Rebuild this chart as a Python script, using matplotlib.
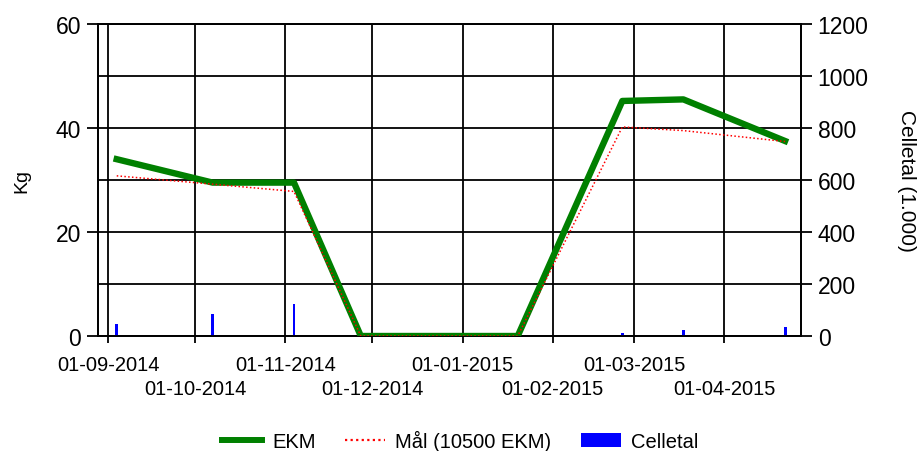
import matplotlib
matplotlib.use("Agg")
import matplotlib.pyplot as plt
import matplotlib.dates as mdates
from matplotlib.patches import Patch
from matplotlib.lines import Line2D
import pandas as pd

plt.rcParams['font.family'] = ['Liberation Sans', 'DejaVu Sans']

# data
dates = pd.to_datetime(["2014-09-04", "2014-10-07", "2014-11-04", "2014-11-27",
                        "2015-01-20", "2015-02-25", "2015-03-18", "2015-04-22"])
ekm = [34.0, 29.5, 29.5, 0, 0, 45.2, 45.5, 37.5]
maal = [30.8, 29.2, 27.8, 0, 0, 40.2, 39.5, 37.4]
celletal = [47, 85, 123, 0, 0, 10, 25, 35]

month_ticks = pd.date_range("2014-09-01", "2015-04-01", freq="MS")
tick_labels = [d.strftime("%d-%m-%Y") for d in month_ticks]

fig = plt.figure(figsize=(9.2, 4.52), dpi=100)
ax1 = fig.add_axes([0.1065, 0.2544, 0.8707 - 0.1065, 0.9447 - 0.2544])
ax2 = ax1.twinx()
ax1.set_zorder(ax2.get_zorder() + 1)
ax1.patch.set_visible(False)

# bars for cell count on right axis
ax2.bar(dates, celletal, width=1.0, color="#0000ff", zorder=3)
ax2.set_ylim(0, 1200)
ax2.set_yticks(range(0, 1201, 200))
ax2.grid(axis="y", color="black", linewidth=1.3)
ax2.set_axisbelow(True)
ax2.set_ylabel("Celletal (1.000)", rotation=270, fontsize=15, labelpad=34)

# lines on left axis
ax1.plot(dates, ekm, color="#008000", linewidth=4.6, solid_joinstyle="round", zorder=4)
ax1.plot(dates, maal, color="red", linestyle=(0, (1, 1.5)), linewidth=1.1, zorder=5)
ax1.set_ylim(0, 60)
ax1.set_yticks([0, 20, 40, 60])
ax1.set_ylabel("Kg", fontsize=14, labelpad=18)

# staggered date labels: even months on first row, odd months on second row
x0 = mdates.date2num(pd.Timestamp("2014-09-01"))
ax1.set_xlim(x0 - 3.45, x0 + 238.5)
ax1.set_xticks(month_ticks[::2])
ax1.set_xticklabels(tick_labels[::2])
ax1.set_xticks(month_ticks[1::2], minor=True)
ax1.set_xticklabels(tick_labels[1::2], minor=True)
ax1.grid(axis="x", which="both", color="black", linewidth=1.3)

for ax in (ax1, ax2):
    ax.tick_params(axis="y", length=8, width=1.3, pad=4, labelsize=16.5)
    for s in ax.spines.values():
        s.set_linewidth(1.3)
        s.set_color("black")
ax1.tick_params(axis="x", which="major", length=5, width=1.3, pad=9, labelsize=14.5)
ax1.tick_params(axis="x", which="minor", length=5, width=1.3, pad=26, labelsize=14.5)

handles = [Line2D([], [], color="#008000", linewidth=4.3),
           Line2D([], [], color="red", linestyle=(0, (1, 1.5)), linewidth=1.6),
           Patch(facecolor="#0000ff")]
fig.legend(handles, ["EKM", "Mål (10500 EKM)", "Celletal"], loc="center",
           bbox_to_anchor=(0.5, 0.024), ncol=3, frameon=False, fontsize=14.5,
           handlelength=2.0, handletextpad=0.5, columnspacing=1.45)

fig.savefig("out.png", dpi=100)
